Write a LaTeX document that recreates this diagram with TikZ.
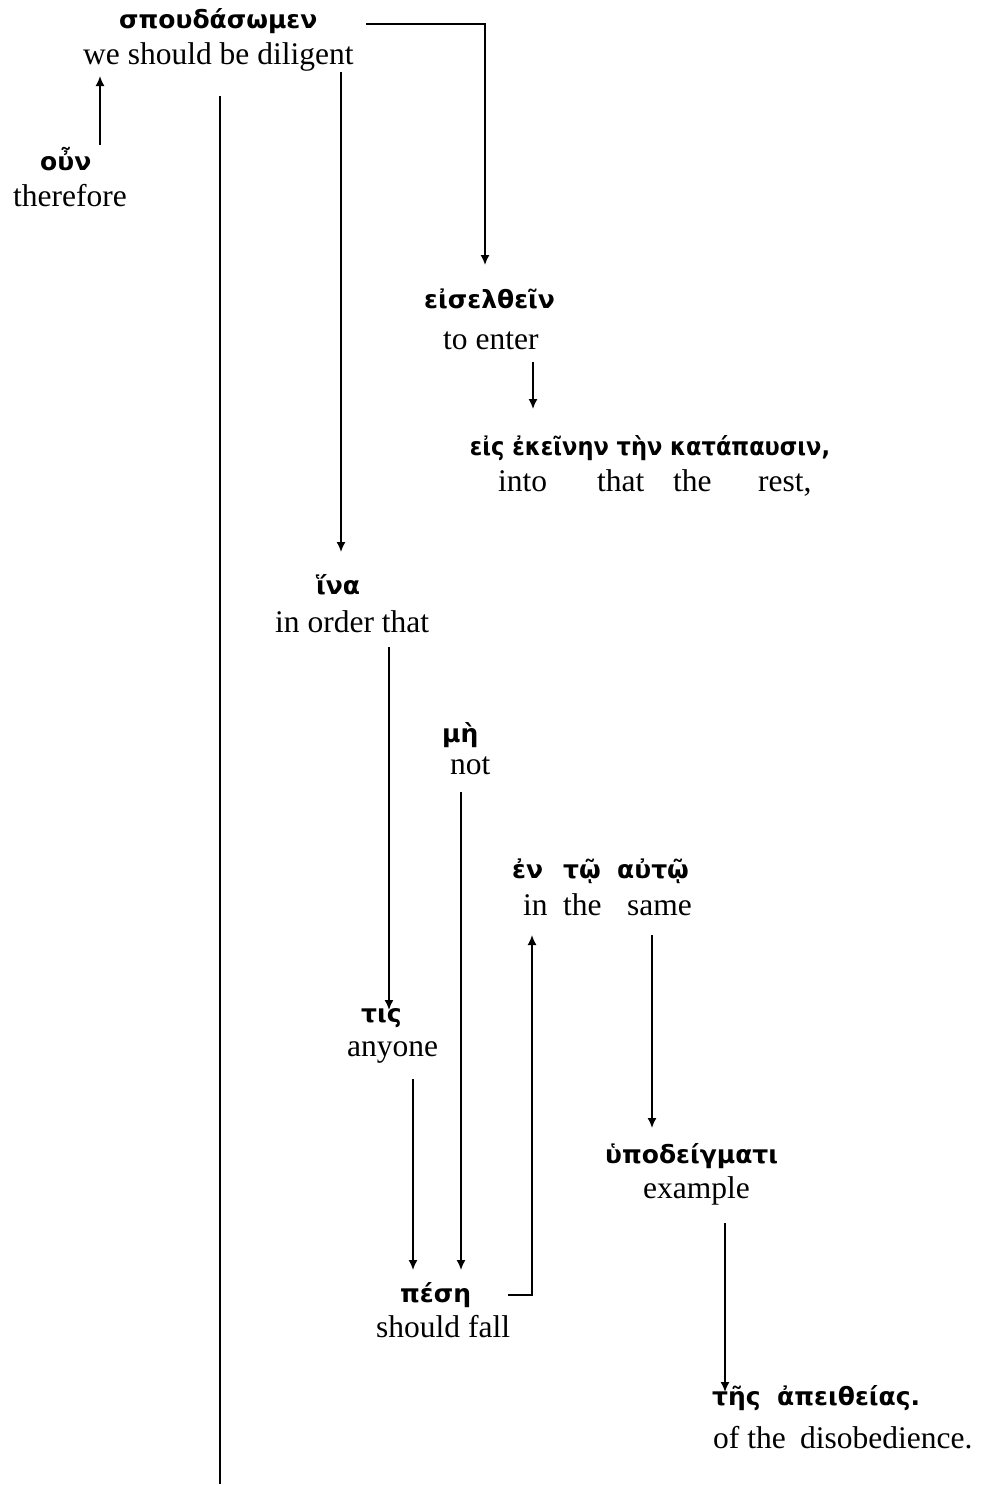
\documentclass[tikz,border=0pt]{standalone}
\usepackage{fontspec}
\setmainfont{Liberation Serif}
\newfontfamily\grk{DejaVu Sans}
\newfontfamily\grkn[FakeStretch=0.9]{DejaVu Sans}
\usetikzlibrary{arrows.meta}
\begin{document}
\begin{tikzpicture}[x=1pt,y=-1pt,
 en/.style={anchor=base west,inner sep=0pt,font=\fontsize{31.5}{36}\selectfont},
 gr/.style={anchor=base west,inner sep=0pt,font=\grk\bfseries\fontsize{25}{30}\selectfont},
 conn/.style={line width=1.6pt},
 arr/.style={conn,-{Latex[length=10pt,width=9pt]}}]
\useasboundingbox (0,0) rectangle (988,1486);
% texts
\node[gr] (spoudG) at (119,28) {σπουδάσωμεν};
\node[en] (spoudE) at (83,64) {we should be diligent};
\node[gr] (ounG) at (40,170) {οὖν};
\node[en] (ounE) at (13,206) {therefore};
\node[gr] (eisG) at (424,308) {εἰσελθεῖν};
\node[en] (eisE) at (443,349) {to enter};
\node[gr,anchor=base,font=\grkn\bfseries\fontsize{25}{30}\selectfont] (restG) at (650,455) {εἰς ἐκεῖνην τὴν κατάπαυσιν,};
\node[en] (restE1) at (498,491) {into};
\node[en] (restE2) at (597,491) {that};
\node[en] (restE3) at (673,491) {the};
\node[en] (restE4) at (758,491) {rest,};
\node[gr] (inaG) at (316,594) {ἵνα};
\node[en] (inaE) at (275,632) {in order that};
\node[gr] (meG) at (442,742) {μὴ};
\node[en] (meE) at (450,774) {not};
\node[gr] (samG1) at (512,878) {ἐν};
\node[gr] (samG2) at (563,878) {τῷ};
\node[gr] (samG3) at (617,878) {αὐτῷ};
\node[en] (samE1) at (523,915) {in};
\node[en] (samE2) at (563,915) {the};
\node[en] (samE3) at (627,915) {same};
\node[gr] (tisG) at (361,1022) {τις};
\node[en] (tisE) at (347,1056) {anyone};
\node[gr] (hypG) at (605,1163) {ὑποδείγματι};
\node[en] (hypE) at (643,1198) {example};
\node[gr] (pesG) at (400,1302) {πέση};
\node[en] (pesE) at (376,1337) {should fall};
\node[gr] (disG1) at (712,1405) {τῆς};
\node[gr] (disG2) at (777,1405) {ἀπειθείας.};
\node[en] (disE1) at (713,1448) {of the};
\node[en] (disE2) at (800,1448) {disobedience.};
% connector end points
\coordinate (c1a) at (100,145); \coordinate (c1b) at (100,76);
\coordinate (c2a) at (366,24); \coordinate (c2b) at (485,24); \coordinate (c2c) at (485,265);
\coordinate (c3a) at (341,72); \coordinate (c3b) at (341,552);
\coordinate (c4a) at (220,96); \coordinate (c4b) at (220,1484);
\coordinate (c5a) at (533,362); \coordinate (c5b) at (533,409);
\coordinate (c6a) at (389,647); \coordinate (c6b) at (389,1010);
\coordinate (c7a) at (461,792); \coordinate (c7b) at (461,1270);
\coordinate (c8a) at (652,935); \coordinate (c8b) at (652,1128);
\coordinate (c9a) at (413,1079); \coordinate (c9b) at (413,1270);
\coordinate (c10a) at (508,1295); \coordinate (c10b) at (532,1295); \coordinate (c10c) at (532,935);
\coordinate (c11a) at (725,1223); \coordinate (c11b) at (725,1392);
% connectors
\draw[arr] (c1a) -- (c1b);
\draw[arr] (c2a) -- (c2b) -- (c2c);
\draw[arr] (c3a) -- (c3b);
\draw[conn] (c4a) -- (c4b);
\draw[arr] (c5a) -- (c5b);
\draw[arr] (c6a) -- (c6b);
\draw[arr] (c7a) -- (c7b);
\draw[arr] (c8a) -- (c8b);
\draw[arr] (c9a) -- (c9b);
\draw[arr] (c10a) -- (c10b) -- (c10c);
\draw[arr] (c11a) -- (c11b);
\end{tikzpicture}
\end{document}
